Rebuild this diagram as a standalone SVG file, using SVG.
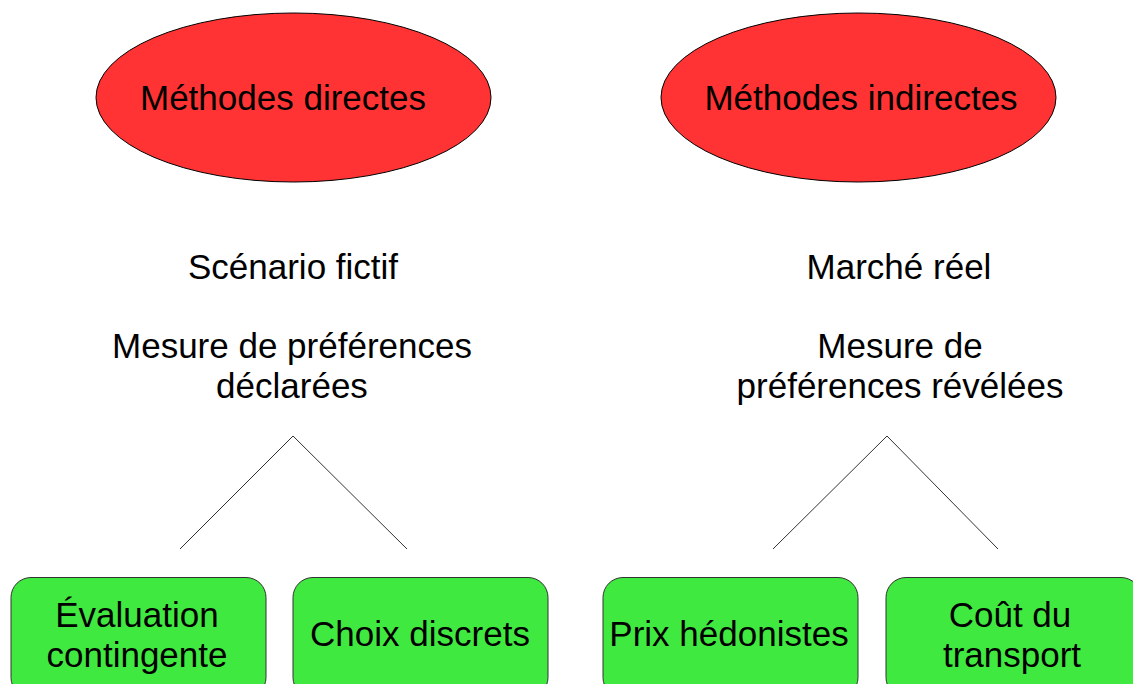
<svg xmlns="http://www.w3.org/2000/svg" width="1133" height="684" viewBox="0 0 1133 684">
<style>
text { font-family: "Liberation Sans", Arial, sans-serif; font-size: 35px; fill: #000; text-anchor: middle; }
.ell { fill: #ff3333; stroke: #000; stroke-width: 1; }
.box { fill: #40e940; stroke: #333; stroke-width: 1; }
.conn { stroke: #333; stroke-width: 1; fill: none; }
</style>
<rect width="1133" height="684" fill="#fff"/>
<g id="n-directes">
<ellipse class="ell" cx="293.5" cy="97.5" rx="197.5" ry="84.5"/>
<text x="283" y="110">Méthodes directes</text>
</g>
<g id="n-indirectes">
<ellipse class="ell" cx="858.5" cy="97.5" rx="197.5" ry="84.5"/>
<text x="861" y="110">Méthodes indirectes</text>
</g>
<g id="n-label-left">
<text x="293" y="279">Scénario fictif</text>
<text x="292" y="358">Mesure de préférences</text>
<text x="292" y="398">déclarées</text>
</g>
<g id="n-label-right">
<text x="899" y="279">Marché réel</text>
<text x="900" y="358">Mesure de</text>
<text x="900" y="398">préférences révélées</text>
</g>
<g id="connectors">
<polyline class="conn" points="180,549 293,436 407,549"/>
<polyline class="conn" points="773,549 887,436 998,549"/>
</g>
<g id="n-evaluation">
<rect class="box" x="11" y="577.5" width="255" height="120" rx="20" ry="20"/>
<text x="137" y="627">Évaluation</text>
<text x="137" y="667">contingente</text>
</g>
<g id="n-choix">
<rect class="box" x="293" y="577.5" width="255" height="120" rx="20" ry="20"/>
<text x="420" y="646">Choix discrets</text>
</g>
<g id="n-prix">
<rect class="box" x="603" y="577.5" width="255" height="120" rx="20" ry="20"/>
<text x="729" y="646">Prix hédonistes</text>
</g>
<g id="n-cout">
<rect class="box" x="886" y="577.5" width="255" height="120" rx="20" ry="20"/>
<text x="1010" y="627">Coût du</text>
<text x="1012" y="667">transport</text>
</g>
</svg>
